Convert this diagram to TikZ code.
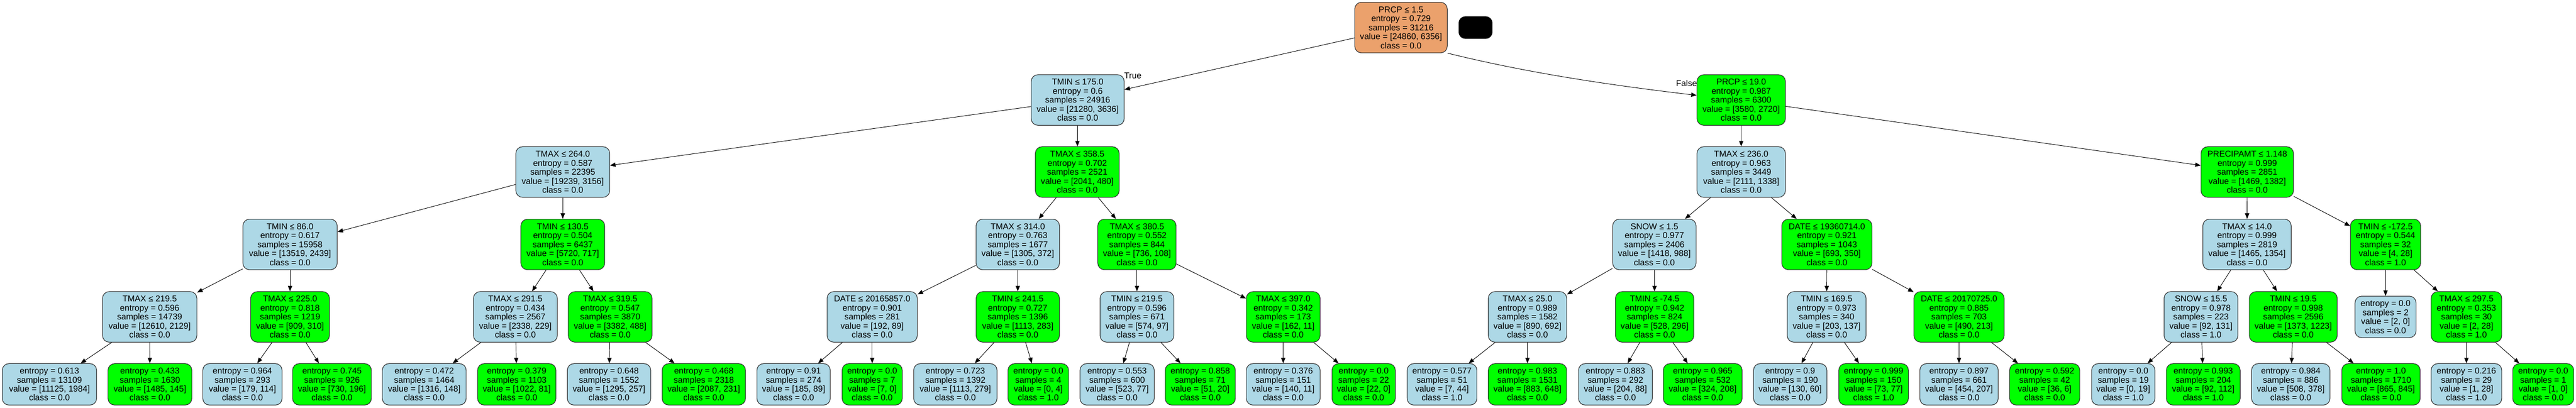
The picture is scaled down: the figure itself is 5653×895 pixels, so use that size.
\documentclass[tikz,border=0pt]{standalone}
\usepackage{fontspec}
\setmainfont{Liberation Sans}
\usetikzlibrary{arrows.meta}
\definecolor{lblue}{HTML}{ADD8E6}
\definecolor{lgreen}{HTML}{00FF00}
\definecolor{rootc}{RGB}{235,161,108}
\newcommand\splittxt[5]{#1\\entropy = #2\\samples = #3\\value = [#4]\\class = #5}
\newcommand\leaftxt[4]{entropy = #1\\samples = #2\\value = [#3]\\class = #4}
\begin{document}
\begin{tikzpicture}[x=0.75pt,y=-0.75pt,
  box/.style={draw=black!80, line width=1pt, rounded corners=11pt, align=center, inner sep=1pt,
    font=\fontsize{14}{14.8}\selectfont, minimum height=83.25pt},
  lfbox/.style={box, minimum height=68.25pt},
  bw/.style={minimum width=#1*0.75pt},
  blu/.style={fill=lblue}, grn/.style={fill=lgreen}, org/.style={fill=rootc},
  edge/.style={-{Triangle[length=9pt,width=7pt]}, line width=0.8pt, black},
  lbl/.style={font=\fontsize{14}{14.8}\selectfont, inner sep=0pt}]
\fill[white] (0,0) rectangle (5653,895);
\useasboundingbox (0,0) rectangle (5653,895);
% level 0
\node[box,org,bw=203] (r0) at (3074.5,60.5) {\splittxt{PRCP ≤ 1.5}{0.729}{31216}{24860, 6356}{0.0}};
\node[draw=black!80, fill=black, rounded corners=11pt, minimum width=55.5pt, minimum height=36.75pt] (blk) at (3238,60.5) {};
% level 1
\node[box,blu,bw=204] (a) at (2365,219.5) {\splittxt{TMIN ≤ 175.0}{0.6}{24916}{21280, 3636}{0.0}};
\node[box,grn,bw=194] (b) at (3821,219.5) {\splittxt{PRCP ≤ 19.0}{0.987}{6300}{3580, 2720}{0.0}};
% level 2
\node[box,blu,bw=206] (aa) at (1235,377.5) {\splittxt{TMAX ≤ 264.0}{0.587}{22395}{19239, 3156}{0.0}};
\node[box,grn,bw=184] (ab) at (2364,377.5) {\splittxt{TMAX ≤ 358.5}{0.702}{2521}{2041, 480}{0.0}};
\node[box,blu,bw=194] (ba) at (3821,377.5) {\splittxt{TMAX ≤ 236.0}{0.963}{3449}{2111, 1338}{0.0}};
\node[box,grn,bw=203] (bb) at (4931.5,377.5) {\splittxt{PRECIPAMT ≤ 1.148}{0.999}{2851}{1469, 1382}{0.0}};
% level 3
\node[box,blu,bw=207] (aaa) at (636.5,536.5) {\splittxt{TMIN ≤ 86.0}{0.617}{15958}{13519, 2439}{0.0}};
\node[box,grn,bw=184] (aab) at (1235,536.5) {\splittxt{TMIN ≤ 130.5}{0.504}{6437}{5720, 717}{0.0}};
\node[box,blu,bw=183] (aba) at (2233.5,536.5) {\splittxt{TMAX ≤ 314.0}{0.763}{1677}{1305, 372}{0.0}};
\node[box,grn,bw=172] (abb) at (2495,536.5) {\splittxt{TMAX ≤ 380.5}{0.552}{844}{736, 108}{0.0}};
\node[box,blu,bw=183] (baa) at (3630.5,536.5) {\splittxt{SNOW ≤ 1.5}{0.977}{2406}{1418, 988}{0.0}};
\node[box,grn,bw=198] (bab) at (4009,536.5) {\splittxt{DATE ≤ 19360714.0}{0.921}{1043}{693, 350}{0.0}};
\node[box,blu,bw=194] (bba) at (4931,536.5) {\splittxt{TMAX ≤ 14.0}{0.999}{2819}{1465, 1354}{0.0}};
\node[box,grn,bw=154] (bbb) at (5235,536.5) {\splittxt{TMIN ≤ -172.5}{0.544}{32}{4, 28}{1.0}};
% level 4
\node[box,blu,bw=207] (c1) at (328.5,695.5) {\splittxt{TMAX ≤ 219.5}{0.596}{14739}{12610, 2129}{0.0}};
\node[box,grn,bw=173] (c2) at (636.5,695.5) {\splittxt{TMAX ≤ 225.0}{0.818}{1219}{909, 310}{0.0}};
\node[box,blu,bw=184] (c3) at (1131,695.5) {\splittxt{TMAX ≤ 291.5}{0.434}{2567}{2338, 229}{0.0}};
\node[box,grn,bw=184] (c4) at (1339,695.5) {\splittxt{TMAX ≤ 319.5}{0.547}{3870}{3382, 488}{0.0}};
\node[box,blu,bw=198] (c5) at (1914,695.5) {\splittxt{DATE ≤ 20165857.0}{0.901}{281}{192, 89}{0.0}};
\node[box,grn,bw=183] (c6) at (2233.5,695.5) {\splittxt{TMIN ≤ 241.5}{0.727}{1396}{1113, 283}{0.0}};
\node[box,blu,bw=162] (c7) at (2495,695.5) {\splittxt{TMIN ≤ 219.5}{0.596}{671}{574, 97}{0.0}};
\node[box,grn,bw=162] (c8) at (2816,695.5) {\splittxt{TMAX ≤ 397.0}{0.342}{173}{162, 11}{0.0}};
\node[box,blu,bw=172] (c9) at (3352,695.5) {\splittxt{TMAX ≤ 25.0}{0.989}{1582}{890, 692}{0.0}};
\node[box,grn,bw=172] (c10) at (3631,695.5) {\splittxt{TMIN ≤ -74.5}{0.942}{824}{528, 296}{0.0}};
\node[box,blu,bw=173] (c11) at (4008.5,695.5) {\splittxt{TMIN ≤ 169.5}{0.973}{340}{203, 137}{0.0}};
\node[box,grn,bw=198] (c12) at (4299,695.5) {\splittxt{DATE ≤ 20170725.0}{0.885}{703}{490, 213}{0.0}};
\node[box,blu,bw=162] (c13) at (4830,695.5) {\splittxt{SNOW ≤ 15.5}{0.978}{223}{92, 131}{1.0}};
\node[box,grn,bw=193] (c14) at (5032.5,695.5) {\splittxt{TMIN ≤ 19.5}{0.998}{2596}{1373, 1223}{0.0}};
\node[lfbox,blu,bw=134] (c15) at (5235,695.5) {\leaftxt{0.0}{2}{2, 0}{0.0}};
\node[box,grn,bw=155] (c16) at (5412.5,695.5) {\splittxt{TMAX ≤ 297.5}{0.353}{30}{2, 28}{1.0}};
% level 5 leaves
\node[lfbox,blu,bw=207] (l1) at (108.5,843.5) {\leaftxt{0.613}{13109}{11125, 1984}{0.0}};
\node[lfbox,grn,bw=184] (l2) at (329,843.5) {\leaftxt{0.433}{1630}{1485, 145}{0.0}};
\node[lfbox,blu,bw=174] (l3) at (532,843.5) {\leaftxt{0.964}{293}{179, 114}{0.0}};
\node[lfbox,grn,bw=173] (l4) at (728.5,843.5) {\leaftxt{0.745}{926}{730, 196}{0.0}};
\node[lfbox,blu,bw=184] (l5) at (931,843.5) {\leaftxt{0.472}{1464}{1316, 148}{0.0}};
\node[lfbox,grn,bw=172] (l6) at (1134,843.5) {\leaftxt{0.379}{1103}{1022, 81}{0.0}};
\node[lfbox,blu,bw=183] (l7) at (1336.5,843.5) {\leaftxt{0.648}{1552}{1295, 257}{0.0}};
\node[lfbox,grn,bw=183] (l8) at (1544.5,843.5) {\leaftxt{0.468}{2318}{2087, 231}{0.0}};
\node[lfbox,blu,bw=161] (l9) at (1741.5,843.5) {\leaftxt{0.91}{274}{185, 89}{0.0}};
\node[lfbox,grn,bw=132] (l10) at (1914,843.5) {\leaftxt{0.0}{7}{7, 0}{0.0}};
\node[lfbox,blu,bw=183] (l11) at (2096.5,843.5) {\leaftxt{0.723}{1392}{1113, 279}{0.0}};
\node[lfbox,grn,bw=133] (l12) at (2278.5,843.5) {\leaftxt{0.0}{4}{0, 4}{1.0}};
\node[lfbox,blu,bw=163] (l13) at (2451.5,843.5) {\leaftxt{0.553}{600}{523, 77}{0.0}};
\node[lfbox,grn,bw=154] (l14) at (2634,843.5) {\leaftxt{0.858}{71}{51, 20}{0.0}};
\node[lfbox,blu,bw=162] (l15) at (2816,843.5) {\leaftxt{0.376}{151}{140, 11}{0.0}};
\node[lfbox,grn,bw=139] (l16) at (2992.5,843.5) {\leaftxt{0.0}{22}{22, 0}{0.0}};
\node[lfbox,blu,bw=153] (l17) at (3164.5,843.5) {\leaftxt{0.577}{51}{7, 44}{1.0}};
\node[lfbox,grn,bw=172] (l18) at (3352,843.5) {\leaftxt{0.983}{1531}{883, 648}{0.0}};
\node[lfbox,blu,bw=162] (l19) at (3545,843.5) {\leaftxt{0.883}{292}{204, 88}{0.0}};
\node[lfbox,grn,bw=173] (l20) at (3736.5,843.5) {\leaftxt{0.965}{532}{324, 208}{0.0}};
\node[lfbox,blu,bw=161] (l21) at (3928.5,843.5) {\leaftxt{0.9}{190}{130, 60}{0.0}};
\node[lfbox,grn,bw=153] (l22) at (4111.5,843.5) {\leaftxt{0.999}{150}{73, 77}{1.0}};
\node[lfbox,blu,bw=172] (l23) at (4299,843.5) {\leaftxt{0.897}{661}{454, 207}{0.0}};
\node[lfbox,grn,bw=154] (l24) at (4487,843.5) {\leaftxt{0.592}{42}{36, 6}{0.0}};
\node[lfbox,blu,bw=139] (l25) at (4659.5,843.5) {\leaftxt{0.0}{19}{0, 19}{1.0}};
\node[lfbox,grn,bw=162] (l26) at (4835,843.5) {\leaftxt{0.993}{204}{92, 112}{1.0}};
\node[lfbox,blu,bw=172] (l27) at (5027,843.5) {\leaftxt{0.984}{886}{508, 378}{0.0}};
\node[lfbox,grn,bw=172] (l28) at (5225,843.5) {\leaftxt{1.0}{1710}{865, 845}{0.0}};
\node[lfbox,blu,bw=155] (l29) at (5412.5,843.5) {\leaftxt{0.216}{29}{1, 28}{1.0}};
\node[lfbox,grn,bw=134] (l30) at (5581,843.5) {\leaftxt{0.0}{1}{1, 0}{0.0}};
% edges
\draw[edge] (r0) -- (a);
\draw[edge] (r0.south east) .. controls (3360,162) and (3544,188) .. (b.174);
\foreach \p/\c in {a/aa,a/ab,b/ba,b/bb,
  aa/aaa,aa/aab,ab/aba,ab/abb,ba/baa,ba/bab,bb/bba,bb/bbb,
  aaa/c1,aaa/c2,aab/c3,aab/c4,aba/c5,aba/c6,abb/c7,abb/c8,
  baa/c9,baa/c10,bab/c11,bab/c12,bba/c13,bba/c14,bbb/c15,bbb/c16,
  c1/l1,c1/l2,c2/l3,c2/l4,c3/l5,c3/l6,c4/l7,c4/l8,c5/l9,c5/l10,
  c6/l11,c6/l12,c7/l13,c7/l14,c8/l15,c8/l16,c9/l17,c9/l18,c10/l19,c10/l20,
  c11/l21,c11/l22,c12/l23,c12/l24,c13/l25,c13/l26,c14/l27,c14/l28,c16/l29,c16/l30}
  \draw[edge] (\p) -- (\c);
% edge labels
\node[lbl] (tl) at (2486,166) {True};
\node[lbl] (fl) at (3701,183) {False};
\end{tikzpicture}
\end{document}
